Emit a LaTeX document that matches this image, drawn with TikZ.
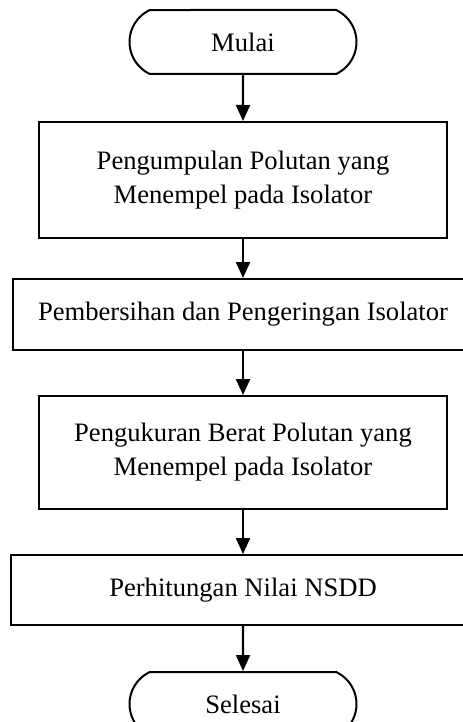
\documentclass[tikz,border=0pt]{standalone}
\usepackage{fontspec}
\setmainfont{Liberation Serif}
\usetikzlibrary{shapes.misc,arrows.meta,positioning}

\begin{document}
\begin{tikzpicture}[node distance=22pt,
    terminal/.style={rounded rectangle, rounded rectangle arc length=130, draw, line width=1pt, minimum width=113.5pt, minimum height=32pt, inner sep=0pt, font=\fontsize{13.3pt}{17pt}\selectfont},
    block/.style={rectangle, draw, line width=1pt, text centered, align=center, minimum width=204pt, minimum height=58pt, inner sep=0pt, font=\fontsize{13.3pt}{17pt}\selectfont},
    wideblock/.style={block, minimum width=230pt, minimum height=35.5pt},
    line/.style={draw, line width=1.1pt, -{Triangle[length=8pt,width=7pt]}}]

    \useasboundingbox (0,0) rectangle (231pt,-361pt);

    \node [terminal] (mulai) at (121.5pt,-21pt) {Mulai};
    \node [block, below=23pt of mulai] (kumpul) {Pengumpulan Polutan yang\\Menempel pada Isolator};
    \node [wideblock, below=19.5pt of kumpul] (bersih) {Pembersihan dan Pengeringan Isolator};
    \node [block, below=22pt of bersih, minimum height=56.5pt] (ukur) {Pengukuran Berat Polutan yang\\Menempel pada Isolator};
    \node [wideblock, below=22pt of ukur, minimum width=232pt, minimum height=35pt] (hitung) {Perhitungan Nilai NSDD};
    \node [terminal, below=22.5pt of hitung] (selesai) {Selesai};

    \draw [line] (mulai) -- (kumpul);
    \draw [line] (kumpul) -- (bersih);
    \draw [line] (bersih) -- (ukur);
    \draw [line] (ukur) -- (hitung);
    \draw [line] (hitung) -- (selesai);
\end{tikzpicture}
\end{document}
